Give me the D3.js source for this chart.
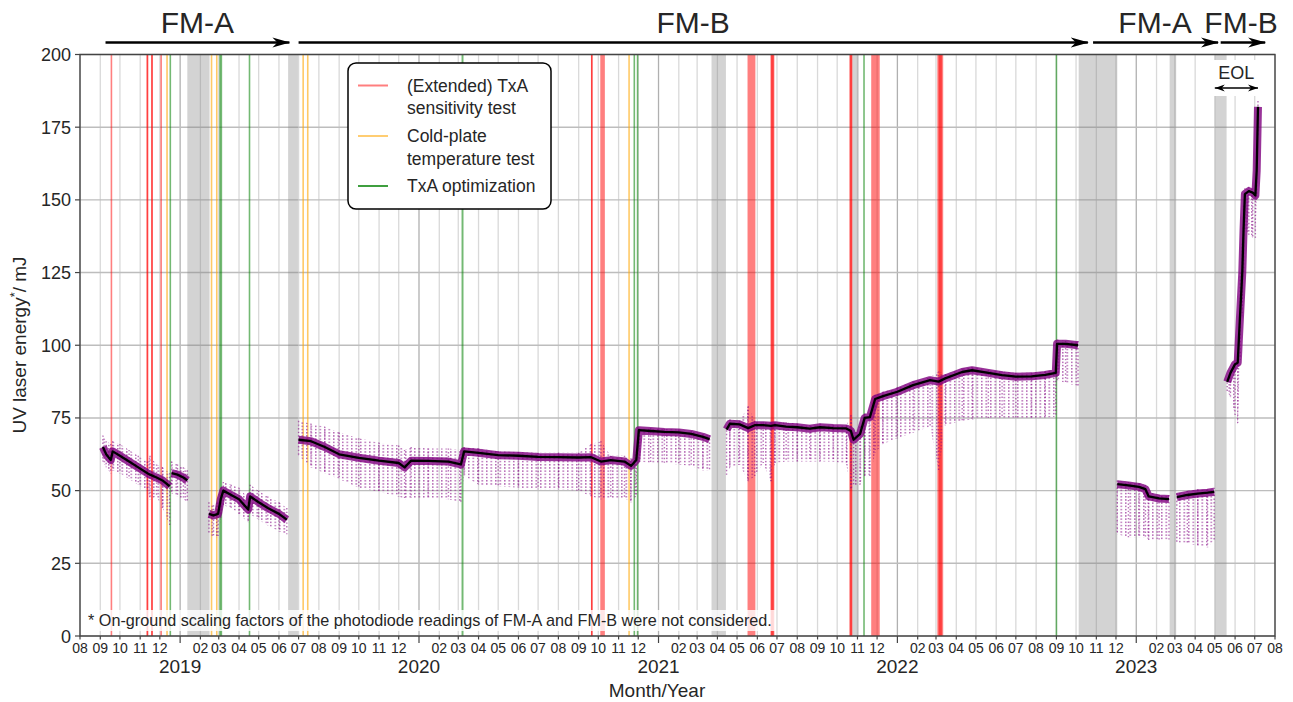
<!DOCTYPE html>
<html>
<head>
<meta charset="utf-8">
<script src="https://cdn.jsdelivr.net/npm/d3@7"></script>
<style>
  body { margin: 0; background: #fff; }
  svg text { font-family: "Liberation Sans", Arial, sans-serif; fill: #262626; }
</style>
</head>
<body>
<svg id="chart" width="1293" height="702"></svg>
<script>
// ---- data: [date, daily mean, min, max] in mJ ----
var fmA2018 = [
  ['2018-09-05', 65, 60, 69], ['2018-09-10', 62.5, 58, 67], ['2018-09-17', 60.5, 56, 66],
  ['2018-09-20', 63.5, 57, 67], ['2018-10-01', 62, 56, 66], ['2018-10-15', 60, 54, 64],
  ['2018-10-29', 58, 52, 62], ['2018-11-12', 56, 50, 60], ['2018-11-16', 55.5, 47, 62],
  ['2018-11-26', 54.5, 48, 59], ['2018-12-05', 53.5, 44, 58], ['2018-12-16', 51.5, 38, 56]
];
var fmA2018b = [
  ['2018-12-19', 56, 49, 60], ['2018-12-28', 55.5, 48, 59], ['2019-01-06', 54.5, 47, 58],
  ['2019-01-12', 53.5, 46, 57]
];
var fmA2019 = [
  ['2019-02-14', 42, 35, 46], ['2019-02-21', 41.5, 34, 45], ['2019-02-28', 42, 34, 46],
  ['2019-03-04', 47, 40, 51], ['2019-03-08', 50, 45, 53], ['2019-03-20', 48.5, 44, 52],
  ['2019-04-01', 47, 42, 51], ['2019-04-15', 43.5, 39, 47.5], ['2019-04-18', 48, 42, 52],
  ['2019-05-01', 46, 40, 50], ['2019-05-15', 44, 38, 48], ['2019-06-01', 42, 36, 46],
  ['2019-06-13', 40, 35, 44]
];
var fmB2019 = [
  ['2019-07-01', 67.5, 62, 74], ['2019-07-20', 67, 58, 73], ['2019-08-10', 65, 56, 72],
  ['2019-09-01', 62.5, 54, 70], ['2019-10-01', 61.3, 51, 68], ['2019-11-01', 60.3, 49.5, 66.5],
  ['2019-12-01', 59.5, 48, 65.5], ['2019-12-10', 58, 47, 64], ['2019-12-20', 60.3, 47.5, 65],
  ['2020-01-15', 60.2, 47.5, 64.5], ['2020-02-15', 60, 47, 64.5], ['2020-03-05', 59, 46, 64],
  ['2020-03-10', 63.5, 55, 65], ['2020-04-01', 63, 52, 64.5], ['2020-05-01', 62.2, 51.5, 63.5],
  ['2020-06-01', 62, 51, 63.3], ['2020-07-01', 61.6, 50.5, 63], ['2020-08-01', 61.5, 50.5, 63],
  ['2020-09-01', 61.4, 50, 63], ['2020-09-20', 61.5, 48, 66], ['2020-10-05', 60, 47, 67],
  ['2020-10-20', 60.5, 47.5, 62], ['2020-11-10', 60, 47.5, 62], ['2020-11-20', 58.5, 46, 61],
  ['2020-11-28', 60.5, 48, 64], ['2020-12-02', 70.8, 60, 71.5], ['2020-12-20', 70.5, 59.5, 71.5],
  ['2021-01-10', 70.2, 59.5, 71.2], ['2021-02-01', 70, 59, 71], ['2021-02-20', 69.5, 58.5, 70.5],
  ['2021-03-10', 68.5, 57, 69.5], ['2021-03-20', 67.7, 57, 69]
];
var fmB2021 = [
  ['2021-04-15', 71, 55, 72], ['2021-04-20', 73, 58, 74.5], ['2021-05-05', 72.8, 59, 74],
  ['2021-05-18', 71.5, 53, 79], ['2021-05-28', 72.5, 55, 74], ['2021-06-10', 72.5, 59.5, 73.5],
  ['2021-06-22', 72.3, 53, 73.5], ['2021-06-28', 72.5, 59.5, 73.5], ['2021-07-15', 72, 60, 73.5],
  ['2021-08-01', 71.8, 60, 73], ['2021-08-20', 71.3, 60, 72.5], ['2021-09-05', 71.8, 60, 73],
  ['2021-09-25', 71.5, 60, 72.5], ['2021-10-15', 71.4, 59, 72.5], ['2021-10-22', 70.5, 50, 76],
  ['2021-10-26', 67.5, 51.5, 70], ['2021-11-05', 69.5, 52, 72], ['2021-11-12', 75, 55, 76.5],
  ['2021-11-20', 75.3, 55, 76.5], ['2021-11-28', 81.5, 63, 83], ['2021-12-10', 82.5, 66, 84],
  ['2022-01-01', 84, 68, 85.5], ['2022-01-25', 86.3, 70, 87.5], ['2022-02-20', 88, 72, 89],
  ['2022-03-05', 87.5, 57, 91], ['2022-03-15', 88.6, 72.5, 90], ['2022-04-10', 90.8, 74, 92],
  ['2022-04-25', 91.4, 74.5, 92.5], ['2022-05-20', 90.5, 75, 91.5], ['2022-06-10', 89.7, 75, 91],
  ['2022-07-01', 89.2, 75, 90.5], ['2022-07-25', 89.3, 75, 90.5], ['2022-08-15', 89.8, 75, 91],
  ['2022-08-31', 90.5, 75.5, 91.5], ['2022-09-02', 100.5, 88, 102], ['2022-09-15', 100.5, 87, 101.5],
  ['2022-10-04', 100, 86, 101.5]
];
var fmA2023 = [
  ['2022-12-03', 52.2, 35, 53.5], ['2022-12-20', 51.8, 34, 53], ['2023-01-05', 51.3, 34, 52.5],
  ['2023-01-15', 50.5, 34, 52], ['2023-01-20', 48, 33, 49.5], ['2023-02-05', 47.3, 33, 48.5],
  ['2023-02-20', 47.1, 33, 48.5]
];
var fmA2023b = [
  ['2023-03-04', 47.8, 32, 49], ['2023-03-20', 48.5, 32, 50], ['2023-04-05', 49, 31, 50.5],
  ['2023-04-20', 49.3, 30.5, 50.5], ['2023-04-30', 49.6, 33, 51]
];
var fmB2023 = [
  ['2023-05-20', 87.4, 84, 88.5], ['2023-05-25', 90.5, 82, 91.5], ['2023-06-01', 93.5, 76, 95],
  ['2023-06-05', 94, 72.5, 96], ['2023-06-09', 112, 95, 125], ['2023-06-12', 125, 110, 135],
  ['2023-06-14', 140, 125, 148], ['2023-06-16', 152, 140, 154], ['2023-06-22', 153, 138, 154.5],
  ['2023-06-28', 152.5, 137, 154], ['2023-07-02', 151.5, 137, 153.5], ['2023-07-04', 160, 150, 165],
  ['2023-07-06', 182, 172, 184]
];
var segments = [fmA2018, fmA2018b, fmA2019, fmB2019, fmB2021, fmA2023, fmA2023b, fmB2023];

// events: [start, end]
var txaSensitivity = [
  ['2018-09-17', '2018-09-19'], ['2018-11-11', '2018-11-13'], ['2018-11-11', '2018-11-13'],
  ['2018-11-18', '2018-11-20'], ['2018-11-18', '2018-11-20'], ['2018-12-02', '2018-12-04'],
  ['2020-09-20', '2020-09-22'], ['2020-09-20', '2020-09-22'], ['2020-10-04', '2020-10-11'],
  ['2021-05-17', '2021-05-29'], ['2021-06-21', '2021-06-27'], ['2021-06-22', '2021-06-26'],
  ['2021-10-20', '2021-10-24'], ['2021-10-20', '2021-10-24'], ['2021-11-22', '2021-12-05'],
  ['2022-03-03', '2022-03-12'], ['2022-03-05', '2022-03-10']
];
var coldPlate = [
  ['2018-12-12', '2018-12-12'], ['2019-02-18', '2019-02-18'], ['2019-02-26', '2019-02-26'],
  ['2019-07-08', '2019-07-08'], ['2019-07-15', '2019-07-15'], ['2020-11-17', '2020-11-17']
];
var txaOptimization = [
  ['2018-12-17', '2018-12-17'], ['2019-03-03', '2019-03-03'], ['2019-03-05', '2019-03-05'],
  ['2019-04-17', '2019-04-17'], ['2020-03-06', '2020-03-09'], ['2020-11-25', '2020-11-25'],
  ['2020-11-30', '2020-11-30'], ['2021-11-11', '2021-11-11'], ['2022-09-01', '2022-09-01']
];
var noData = [
  ['2019-01-12', '2019-02-15'], ['2019-06-15', '2019-06-30'], ['2021-03-23', '2021-04-14'],
  ['2021-10-24', '2021-11-03'], ['2022-10-05', '2022-12-03'], ['2023-02-21', '2023-03-03'],
  ['2023-05-01', '2023-05-19']
];

// model phases on top
var phases = [
  ['FM-A', '2018-09-09', '2019-06-17'],
  ['FM-B', '2019-07-01', '2022-10-19'],
  ['FM-A', '2022-10-27', '2023-05-06'],
  ['FM-B', '2023-05-10', '2023-07-17']
];
var eolRange = ['2023-05-01', '2023-07-06'];

var yTicks = [0, 25, 50, 75, 100, 125, 150, 175, 200];
var legendLabels = [['(Extended) TxA', 'sensitivity test'], ['Cold-plate', 'temperature test'], ['TxA optimization']];
var footnote = '* On-ground scaling factors of the photodiode readings of FM-A and FM-B were not considered.';

// ---- drawing ----
var parse = d3.timeParse('%Y-%m-%d');
var svg = d3.select('#chart');
var defs = svg.append('defs');

var x = d3.scaleTime()
  .domain([parse('2018-08-01'), parse('2023-08-01')])
  .range([80, 1275]);
var y = d3.scaleLinear().domain([0, 200]).range([636, 54.5]);

var months = d3.timeMonth.range(parse('2018-08-01'), parse('2023-08-02'));

// grid
var grid = svg.append('g');
grid.selectAll('.vg').data(months).enter().append('line')
  .attr('x1', d => x(d)).attr('x2', d => x(d))
  .attr('y1', y(0)).attr('y2', y(200))
  .attr('stroke', d => d.getMonth() == 0 ? '#b0b0b0' : '#d9d9d9')
  .attr('stroke-width', 1.3);
grid.selectAll('.hg').data(yTicks).enter().append('line')
  .attr('x1', 80).attr('x2', 1275)
  .attr('y1', d => y(d)).attr('y2', d => y(d))
  .attr('stroke', '#bdbdbd').attr('stroke-width', 1.4);

// spans
function spans(data, color, opacity) {
  svg.append('g').selectAll('rect').data(data).enter().append('rect')
    .attr('x', d => {
      let a = x(parse(d[0])), b = x(parse(d[1]));
      return b - a < 1.6 ? (a + b) / 2 - 0.8 : a;
    })
    .attr('width', d => Math.max(1.6, x(parse(d[1])) - x(parse(d[0]))))
    .attr('y', y(200)).attr('height', y(0) - y(200))
    .attr('fill', color).attr('opacity', opacity);
}
spans(noData, '#808080', 0.35);
spans(txaSensitivity, '#ff0000', 0.5);
spans(coldPlate, '#ffa500', 0.6);
spans(txaOptimization, '#008000', 0.55);

// scattered single shots: dotted texture between min and max
var dots = defs.append('pattern').attr('id', 'dots')
  .attr('patternUnits', 'userSpaceOnUse').attr('width', 4.5).attr('height', 3.2);
dots.append('rect').attr('width', 1.5).attr('height', 1.5).attr('fill', '#800080').attr('opacity', 0.6);

var spread = d3.area().x(d => x(parse(d[0]))).y0(d => y(d[2])).y1(d => y(d[3]));
segments.forEach(seg => {
  svg.append('path').datum(seg).attr('d', spread).attr('fill', 'url(#dots)');
});

var allPts = [].concat(...segments);
svg.append('g').selectAll('line').data(allPts).enter().append('line')
  .attr('x1', d => x(parse(d[0]))).attr('x2', d => x(parse(d[0])))
  .attr('y1', d => y(d[3])).attr('y2', d => y(d[2]))
  .attr('stroke', '#800080').attr('stroke-width', 1.4)
  .attr('stroke-dasharray', '1.4 2.2').attr('opacity', 0.55);

var line = d3.line().x(d => x(parse(d[0]))).y(d => y(d[1]));
segments.forEach(seg => {
  svg.append('path').datum(seg).attr('d', line)
    .attr('fill', 'none').attr('stroke', '#800080').attr('stroke-width', 8)
    .attr('stroke-linejoin', 'round').attr('opacity', 0.8);
  svg.append('path').datum(seg).attr('d', line)
    .attr('fill', 'none').attr('stroke', '#000').attr('stroke-width', 2.3)
    .attr('stroke-linejoin', 'round');
});

// frame
svg.append('rect').attr('x', 80).attr('y', y(200))
  .attr('width', 1195).attr('height', y(0) - y(200))
  .attr('fill', 'none').attr('stroke', '#444').attr('stroke-width', 1.4);

// x ticks
var xt = svg.append('g');
xt.selectAll('line').data(months).enter().append('line')
  .attr('x1', d => x(d)).attr('x2', d => x(d))
  .attr('y1', y(0)).attr('y2', d => y(0) + (d.getMonth() == 0 ? 7 : 3.5))
  .attr('stroke', '#444').attr('stroke-width', 1.2);
xt.selectAll('.m').data(months.filter(d => d.getMonth() != 0)).enter().append('text')
  .attr('x', d => x(d)).attr('y', 653)
  .attr('text-anchor', 'middle').style('font-size', '14px')
  .text(d3.timeFormat('%m'));
xt.selectAll('.yr').data(months.filter(d => d.getMonth() == 0)).enter().append('text')
  .attr('x', d => x(d)).attr('y', 673)
  .attr('text-anchor', 'middle').style('font-size', '19px')
  .text(d3.timeFormat('%Y'));
svg.append('text').attr('x', 657).attr('y', 697)
  .attr('text-anchor', 'middle').style('font-size', '19px').text('Month/Year');

// y ticks
var yt = svg.append('g');
yt.selectAll('line').data(yTicks).enter().append('line')
  .attr('x1', 75).attr('x2', 80).attr('y1', d => y(d)).attr('y2', d => y(d))
  .attr('stroke', '#444').attr('stroke-width', 1.2);
yt.selectAll('text').data(yTicks).enter().append('text')
  .attr('x', 71).attr('y', d => y(d) + 6.5)
  .attr('text-anchor', 'end').style('font-size', '18px').text(d => d);
var ylab = svg.append('text')
  .attr('transform', 'translate(26,345) rotate(-90)')
  .attr('text-anchor', 'middle').style('font-size', '19px');
ylab.append('tspan').text('UV laser energy');
ylab.append('tspan').attr('dy', -7).style('font-size', '13px').text('*');
ylab.append('tspan').attr('dy', 7).text('/ mJ');

// phase arrows
defs.append('marker').attr('id', 'head').attr('viewBox', '0 0 18 12')
  .attr('refX', 17).attr('refY', 6).attr('markerWidth', 18).attr('markerHeight', 12)
  .attr('markerUnits', 'userSpaceOnUse').attr('orient', 'auto-start-reverse')
  .append('path').attr('d', 'M0,1 L18,6 L0,11 L5,6 Z').attr('fill', '#000');
defs.append('marker').attr('id', 'head2').attr('viewBox', '0 0 10 8')
  .attr('refX', 10).attr('refY', 4).attr('markerWidth', 10).attr('markerHeight', 8)
  .attr('markerUnits', 'userSpaceOnUse').attr('orient', 'auto-start-reverse')
  .append('path').attr('d', 'M0,0.5 L10,4 L0,7.5 L3,4 Z').attr('fill', '#000');
phases.forEach(p => {
  let a = x(parse(p[1])), b = x(parse(p[2]));
  svg.append('line').attr('x1', a).attr('x2', b).attr('y1', 42.5).attr('y2', 42.5)
    .attr('stroke', '#000').attr('stroke-width', 2.6).attr('marker-end', 'url(#head)');
});
svg.append('g').selectAll('text').data(phases).enter().append('text')
  .attr('x', (d, i) => i < 2 ? (x(parse(d[1])) + x(parse(d[2]))) / 2 : (i == 2 ? 1155 : 1241))
  .attr('y', 33).attr('text-anchor', 'middle').style('font-size', '30px')
  .text(d => d[0]);

// EOL
var e0 = x(parse(eolRange[0])), e1 = x(parse(eolRange[1]));
svg.append('rect').attr('x', e0 - 3).attr('y', 60).attr('width', e1 - e0 + 6).attr('height', 36).attr('fill', '#fff');
svg.append('text').attr('x', (e0 + e1) / 2).attr('y', 79).attr('text-anchor', 'middle')
  .style('font-size', '18px').text('EOL');
svg.append('line').attr('x1', e0).attr('x2', e1).attr('y1', 88).attr('y2', 88)
  .attr('stroke', '#000').attr('stroke-width', 1.4)
  .attr('marker-start', 'url(#head2)').attr('marker-end', 'url(#head2)');

// footnote
svg.append('rect').attr('x', 86).attr('y', 610).attr('width', 690).attr('height', 21)
  .attr('fill', '#fff').attr('opacity', 0.8);
svg.append('text').attr('x', 88).attr('y', 626).style('font-size', '16.2px').text(footnote);

// legend
var lg = svg.append('g');
lg.append('rect').attr('x', 348).attr('y', 63).attr('width', 203).attr('height', 146)
  .attr('rx', 8).attr('fill', '#fff').attr('stroke', '#000').attr('stroke-width', 1.5);
var legendColors = [['#ff0000', 0.5], ['#ffa500', 0.55], ['#008000', 0.75]];
var legendY = [85.5, 136, 186];
legendLabels.forEach((lab, i) => {
  lg.append('line').attr('x1', 358).attr('x2', 388).attr('y1', legendY[i]).attr('y2', legendY[i])
    .attr('stroke', legendColors[i][0]).attr('opacity', legendColors[i][1]).attr('stroke-width', 2);
  lab.forEach((t, j) => {
    lg.append('text').attr('x', 407).attr('y', legendY[i] + 6 + j * 22.5)
      .style('font-size', '17.5px').text(t);
  });
});
</script>
</body>
</html>
